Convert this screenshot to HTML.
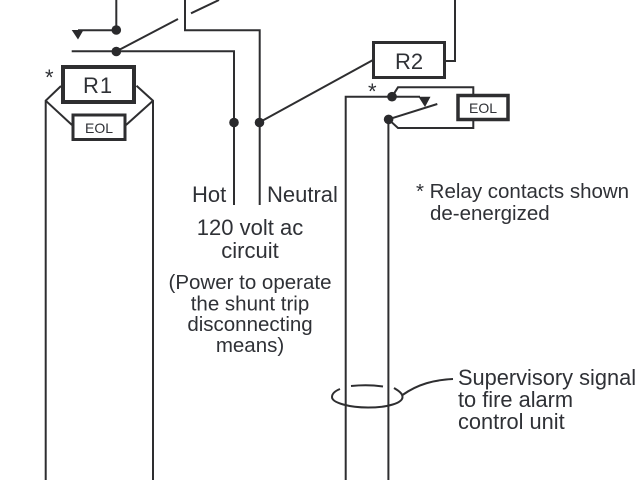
<!DOCTYPE html>
<html>
<head>
<meta charset="utf-8">
<style>
html,body{margin:0;padding:0;background:#fff;width:640px;height:480px;overflow:hidden}
svg{display:block}
text{font-family:"Liberation Sans",sans-serif;fill:#2f3136;font-size:22px}
</style>
</head>
<body>
<svg width="640" height="480" viewBox="0 0 640 480" xmlns="http://www.w3.org/2000/svg">
<g fill="none" stroke="#2e2e30" stroke-width="2">
<path d="M116.300 0V30"/>
<path d="M78 30.300H116"/>
<path d="M71.700 51.300H234V205"/>
<path d="M116 51.500L178 19"/>
<path d="M191 13.300L219 0"/>
<path d="M185 0V30.300H259.700V205"/>
<path d="M260 122L373 60"/>
<path d="M45.700 480V100.700L61 86"/>
<path d="M45.700 100.700L72 125"/>
<path d="M153 480V100.700L136.500 85.700"/>
<path d="M153 100.700L126 125"/>
<path d="M445 61H455V0"/>
<path d="M345.700 480V96.700H392"/>
<path d="M392 96.700L398 87.300H473.300V95"/>
<path d="M388.400 480V119"/>
<path d="M388.500 119.300L437.300 104"/>
<path d="M388.500 119.300L398 128H473.300V120"/>
<path d="M392 96.700H420"/>
<path d="M340 389C335 391 332 394 332 397C332 403 350 407.500 368 407.500C388 407.500 402.500 403 402.500 397C402.500 393 398 390.500 394 388"/>
<path d="M351 386C361 385 373 385 383 386.500"/>
<path d="M402.500 395C418 384 434 380 453 379"/>
</g>
<g fill="#fff" stroke="#2e2e30">
<rect x="63" y="67" width="71" height="35" stroke-width="4"/>
<rect x="73" y="115" width="52" height="24.500" stroke-width="3"/>
<rect x="373.500" y="42.500" width="71" height="35" stroke-width="3"/>
<rect x="458" y="95.500" width="50" height="24" stroke-width="3.500"/>
</g>
<g fill="#2a2a2c">
<circle cx="116.300" cy="30" r="4.800"/>
<circle cx="116.300" cy="51.500" r="4.800"/>
<circle cx="234" cy="122.500" r="4.800"/>
<circle cx="259.500" cy="122.500" r="4.800"/>
<circle cx="392" cy="96.700" r="4.800"/>
<circle cx="388.600" cy="119.400" r="4.800"/>
<path d="M71.700 30H83.500L78 39.500Z"/>
<path d="M418.500 96.700H430.500L425 107Z"/>
</g>
<text x="98" y="93" text-anchor="middle" style="font-size:22px" letter-spacing="1">R1</text>
<text x="99" y="133" text-anchor="middle" style="font-size:14px">EOL</text>
<text x="409" y="69" text-anchor="middle" style="font-size:22px">R2</text>
<text x="483" y="113" text-anchor="middle" style="font-size:14px">EOL</text>
<text x="45" y="85" style="font-size:22px">*</text>
<text x="368" y="99" style="font-size:22px">*</text>
<text x="192" y="202">Hot</text>
<text x="267" y="202">Neutral</text>
<text x="250" y="235" text-anchor="middle">120 volt ac</text>
<text x="250" y="258" text-anchor="middle">circuit</text>
<text x="250" y="289" text-anchor="middle" style="font-size:20.500px">(Power to operate</text>
<text x="250" y="310.500" text-anchor="middle" style="font-size:20.500px">the shunt trip</text>
<text x="250" y="331" text-anchor="middle" style="font-size:20.500px">disconnecting</text>
<text x="250" y="352" text-anchor="middle" style="font-size:20.500px">means)</text>
<text x="416" y="198" style="font-size:20.500px">* Relay contacts shown</text>
<text x="430" y="220" style="font-size:20.500px">de-energized</text>
<text x="458" y="385" style="font-size:21.800px">Supervisory signal</text>
<text x="458" y="407" style="font-size:21.800px">to fire alarm</text>
<text x="458" y="429" style="font-size:21.800px">control unit</text>
</svg>
</body>
</html>
